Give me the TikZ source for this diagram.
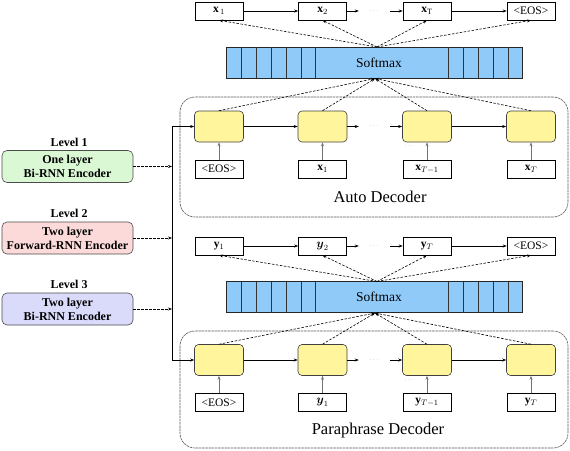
\documentclass[tikz,border=0pt]{standalone}
\usepackage{amsmath}
\usepackage{fontspec}
\setmainfont{Liberation Serif}
\usetikzlibrary{arrows.meta}
\definecolor{cellyellow}{HTML}{FFF59D}
\definecolor{smblue}{HTML}{90CAF9}
\definecolor{encgreen}{HTML}{DAF8D4}
\definecolor{encpink}{HTML}{FCDADA}
\definecolor{encblue}{HTML}{DADAFB}
\begin{document}
\begin{tikzpicture}[x=1pt,y=-1pt,
  tok/.style={draw, fill=white, minimum width=48pt, minimum height=18pt, inner sep=0pt, line width=0.6pt, font=\rmfamily\fontsize{11.5}{13}\selectfont},
  cellbox/.style={draw=black!75, fill=cellyellow, rounded corners=4pt, minimum width=49pt, minimum height=31pt, inner sep=0pt, line width=0.6pt},
  encbox/.style={draw=black!70, rounded corners=5pt, minimum width=131pt, minimum height=32pt, inner sep=0pt, align=center, line width=0.6pt, font=\rmfamily\bfseries\fontsize{12}{14}\selectfont},
  levlabel/.style={font=\rmfamily\bfseries\fontsize{12}{14}\selectfont},
  decframe/.style={draw=black!65, dash pattern=on 2.5pt off 0.7pt, rounded corners=15pt, line width=0.6pt, minimum width=388pt, inner sep=0pt},
  smbox/.style={draw=black!85, fill=smblue, minimum width=296pt, minimum height=31pt, inner sep=0pt, line width=0.6pt},
  dotsnode/.style={minimum width=31pt, inner sep=0pt, font=\tiny, text=black!60},
  arr/.style={-{Stealth[length=4pt,width=3pt]}, line width=0.6pt},
  darr/.style={-{Stealth[length=4pt,width=3pt]}, line width=0.6pt, dash pattern=on 2.5pt off 1.5pt},
  garr/.style={-{Stealth[length=4pt,width=3pt]}, line width=0.7pt, draw=black!55},
  titlelab/.style={font=\rmfamily\fontsize{16.5}{19}\selectfont},
  smlab/.style={font=\rmfamily\fontsize{13.5}{16}\selectfont}
]
\useasboundingbox (0,0) rectangle (570,450);

% ================= Auto decoder block =================
\node[decframe, minimum height=120pt] (fa) at (374,157) {};
\node[titlelab] (fat) at (380,197) {Auto Decoder};

\node[tok] (ao1) at (219,11) {$\mathbf{x}_{\,1}$};
\node[tok] (ao2) at (322.5,11) {$\mathbf{x}_2$};
\node[dotsnode] (aod) at (374.5,11) {$\cdots$};
\node[tok] (ao3) at (427,11) {$\mathbf{x}_{\mathrm{T}}$};
\node[tok] (ao4) at (531,11) {<EOS>};

\node[smbox] (sma) at (374,62.5) {};
\foreach \xx in {241,256,271,286,301,315,448,463,478,493,508}
  \draw[black!80, line width=0.6pt] (\xx,47) -- (\xx,78);
\node[smlab] (smat) at (379,62.5) {Softmax};
\coordinate (smaT) at (377,47);
\coordinate (smaB) at (375,78.5);

\node[cellbox] (ac1) at (219,126.5) {};
\node[cellbox] (ac2) at (322.5,126.5) {};
\node[dotsnode] (acd) at (374.5,126.5) {$\cdots$};
\node[cellbox] (ac3) at (427,126.5) {};
\node[cellbox] (ac4) at (531,126.5) {};
\node[dotsnode] (acd2) at (410,146) {$\cdots$};

\node[tok] (ai1) at (219,169) {<EOS>};
\node[tok] (ai2) at (322.5,169) {$\mathbf{x}_1$};
\node[tok] (ai3) at (427,169) {$\mathbf{x}_{T-1}$};
\node[tok] (ai4) at (531,169) {$\mathbf{x}_T$};

\draw[arr] (ao1) -- (ao2);
\draw[arr] (ao2) -- (aod);
\draw[arr] (aod) -- (ao3);
\draw[arr] (ao3) -- (ao4);
\foreach \n in {ao1,ao2,ao3,ao4}
  \draw[darr] (smaT) -- (\n.south);
\foreach \n in {ac1,ac2,ac3,ac4}
  \draw[darr] (\n.north) -- (smaB);
\draw[arr] (ac1) -- (ac2);
\draw[arr] (ac2) -- (acd);
\draw[arr] (acd) -- (ac3);
\draw[arr] (ac3) -- (ac4);
\draw[garr] (ai1) -- (ac1);
\draw[garr] (ai2) -- (ac2);
\draw[garr] (ai3) -- (ac3);
\draw[garr] (ai4) -- (ac4);

% ================= Paraphrase decoder block =================
\node[decframe, minimum height=117pt] (fp) at (374,389.5) {};
\node[titlelab] (fpt) at (378,431) {Paraphrase Decoder};

\node[tok] (po1) at (219,246) {$\mathbf{y}_1$};
\node[tok] (po2) at (322.5,246) {$\boldsymbol{y}_2$};
\node[dotsnode] (pod) at (374.5,246) {$\cdots$};
\node[tok] (po3) at (427,246) {$\mathbf{y}_T$};
\node[tok] (po4) at (531,246) {<EOS>};

\node[smbox] (smp) at (374,297) {};
\foreach \xx in {241,256,271,286,301,315,448,463,478,493,508}
  \draw[black!80, line width=0.6pt] (\xx,281.5) -- (\xx,312.5);
\node[smlab] (smpt) at (379,297) {Softmax};
\coordinate (smpT) at (377,281.5);
\coordinate (smpB) at (375,313);

\node[cellbox] (pc1) at (219,360) {};
\node[cellbox] (pc2) at (322.5,360) {};
\node[dotsnode] (pcd) at (374.5,360) {$\cdots$};
\node[cellbox] (pc3) at (427,360) {};
\node[cellbox] (pc4) at (531,360) {};
\node[dotsnode] (pcd2) at (410,380) {$\cdots$};

\node[tok] (pi1) at (219,402.5) {<EOS>};
\node[tok] (pi2) at (322.5,402.5) {$\boldsymbol{y}_1$};
\node[tok] (pi3) at (427,402.5) {$\mathbf{y}_{T-1}$};
\node[tok] (pi4) at (531,402.5) {$\mathbf{y}_T$};

\draw[arr] (po1) -- (po2);
\draw[arr] (po2) -- (pod);
\draw[arr] (pod) -- (po3);
\draw[arr] (po3) -- (po4);
\foreach \n in {po1,po2,po3,po4}
  \draw[darr] (smpT) -- (\n.south);
\foreach \n in {pc1,pc2,pc3,pc4}
  \draw[darr] (\n.north) -- (smpB);
\draw[arr] (pc1) -- (pc2);
\draw[arr] (pc2) -- (pcd);
\draw[arr] (pcd) -- (pc3);
\draw[arr] (pc3) -- (pc4);
\draw[garr] (pi1) -- (pc1);
\draw[garr] (pi2) -- (pc2);
\draw[garr] (pi3) -- (pc3);
\draw[garr] (pi4) -- (pc4);

% ================= Encoders =================
\node[levlabel] (l1) at (69,142) {Level 1};
\node[encbox, fill=encgreen] (e1) at (67.5,166.5) {One layer\\Bi-RNN Encoder};
\node[levlabel] (l2) at (69,213) {Level 2};
\node[encbox, fill=encpink] (e2) at (67.5,238) {Two layer\\Forward-RNN Encoder};
\node[levlabel] (l3) at (69,284) {Level 3};
\node[encbox, fill=encblue] (e3) at (67.5,309) {Two layer\\Bi-RNN Encoder};

\coordinate (busT) at (172,126.5);
\coordinate (busB) at (172,360);
\draw[line width=0.6pt] (busT) -- (busB);
\draw[arr] (busT) -- (ac1.west);
\draw[arr] (busB) -- (pc1.west);
\draw[darr] (e1.east) -- (e1.east -| busT);
\draw[darr] (e2.east) -- (e2.east -| busT);
\draw[darr] (e3.east) -- (e3.east -| busT);
\end{tikzpicture}
\end{document}
